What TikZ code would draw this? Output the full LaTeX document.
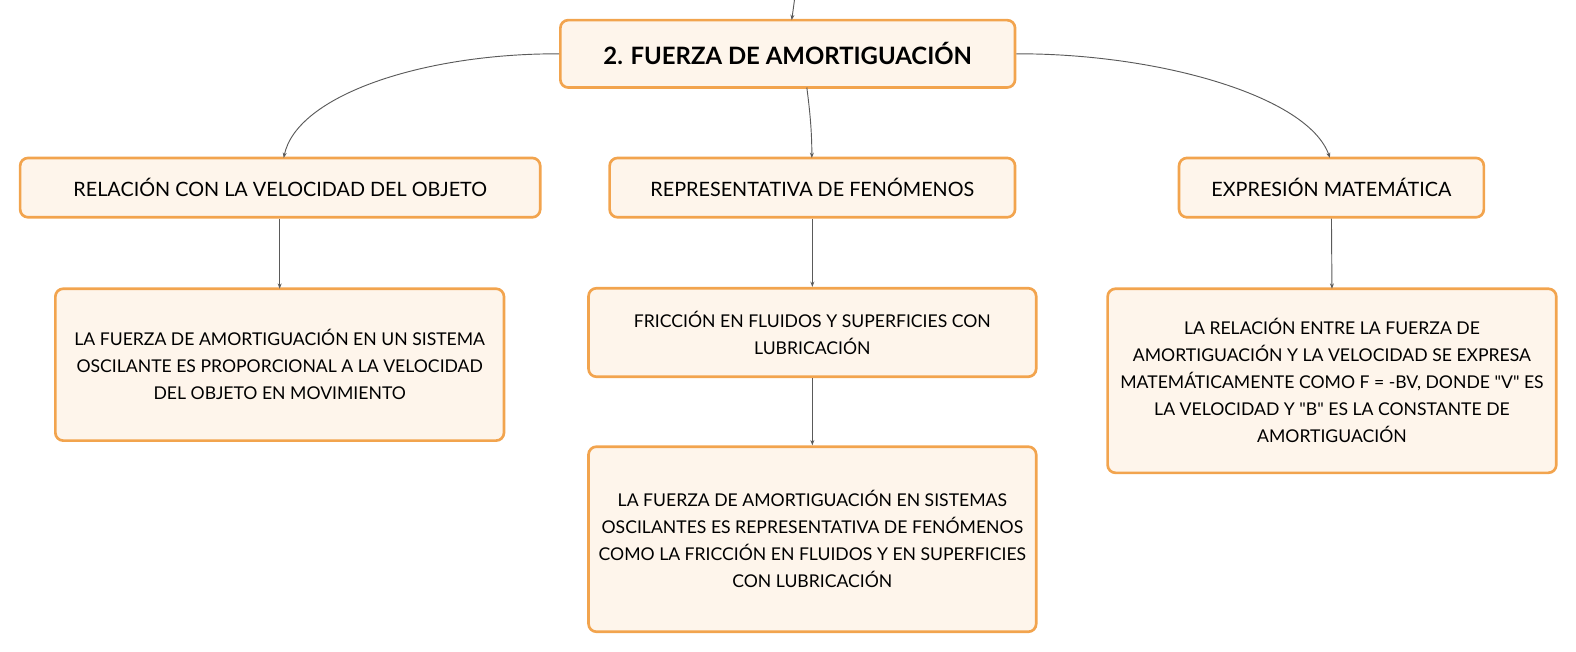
\documentclass[tikz,border=0pt]{standalone}
\usepackage{fontspec}
\setmainfont{Lato}[Ligatures=TeXOff]
\usetikzlibrary{arrows.meta}
\definecolor{boxfill}{HTML}{FEF5EB}
\definecolor{boxline}{HTML}{F2A44E}
\definecolor{conn}{HTML}{5A5A5A}
\newlength\pxu
\setlength\pxu{0.7545bp}
\tikzset{
  card/.style={draw=boxline, fill=boxfill, line width=2pt, rounded corners=6pt,
    align=center, inner sep=0pt, font=\fontsize{13.25}{20.3}\selectfont, text=black},
  labelcard/.style={card, font=\fontsize{14.9}{18}\selectfont},
  titlecard/.style={card, font=\fontsize{18}{20}\bfseries\selectfont},
  link/.style={draw=conn, line width=0.7pt, -{Stealth[length=4pt,width=3pt]}}
}
\begin{document}
\begin{tikzpicture}[x=\pxu,y=-\pxu]
\useasboundingbox (0,0) rectangle (1566.6,648.1);
\node[titlecard, minimum width=452\pxu, minimum height=67\pxu] (top) at (783,53.5) {2. FUERZA DE AMORTIGUACIÓN};
\node[labelcard, minimum width=517\pxu, minimum height=59\pxu] (l1) at (278.5,186.5) {RELACIÓN CON LA VELOCIDAD DEL OBJETO};
\node[labelcard, minimum width=403\pxu, minimum height=59\pxu] (m1) at (807.5,186.5) {REPRESENTATIVA DE FENÓMENOS};
\node[labelcard, minimum width=303\pxu, minimum height=59\pxu] (r1) at (1323.5,186.5) {EXPRESIÓN MATEMÁTICA};
\node[card, minimum width=446\pxu, minimum height=151\pxu] (l2) at (278,362.5) {LA FUERZA DE AMORTIGUACIÓN EN UN SISTEMA\\OSCILANTE ES PROPORCIONAL A LA VELOCIDAD\\DEL OBJETO EN MOVIMIENTO};
\node[card, minimum width=445\pxu, minimum height=88\pxu] (m2) at (807.5,330.5) {FRICCIÓN EN FLUIDOS Y SUPERFICIES CON\\LUBRICACIÓN};
\node[card, minimum width=445\pxu, minimum height=184\pxu] (m3) at (807.5,536) {LA FUERZA DE AMORTIGUACIÓN EN SISTEMAS\\OSCILANTES ES REPRESENTATIVA DE FENÓMENOS\\COMO LA FRICCIÓN EN FLUIDOS Y EN SUPERFICIES\\CON LUBRICACIÓN};
\node[card, minimum width=446\pxu, minimum height=183\pxu] (r2) at (1324,378.5) {LA RELACIÓN ENTRE LA FUERZA DE\\AMORTIGUACIÓN Y LA VELOCIDAD SE EXPRESA\\MATEMÁTICAMENTE COMO F = -BV, DONDE "V" ES\\LA VELOCIDAD Y "B" ES LA CONSTANTE DE\\AMORTIGUACIÓN};
\coordinate (in) at (790,-2);
\draw[link] (in) -- (787,20) coordinate (topin);
\draw[link] (top.west) .. controls (420,53) and (295,95) .. (282,157) coordinate (l1in);
\draw[link] (top.east) .. controls (1150,53) and (1300,95) .. (1322,157) coordinate (r1in);
\draw[link] (802,87) coordinate (topout) .. controls (805,110) and (807,130) .. (807,157) coordinate (m1in);
\draw[link] (l1.south -| 278,0) -- (278,287);
\draw[link] (m1.south) -- (m2.north);
\draw[link] (m2.south) -- (m3.north);
\draw[link] (r1.south) -- (1324,287);
\end{tikzpicture}
\end{document}
